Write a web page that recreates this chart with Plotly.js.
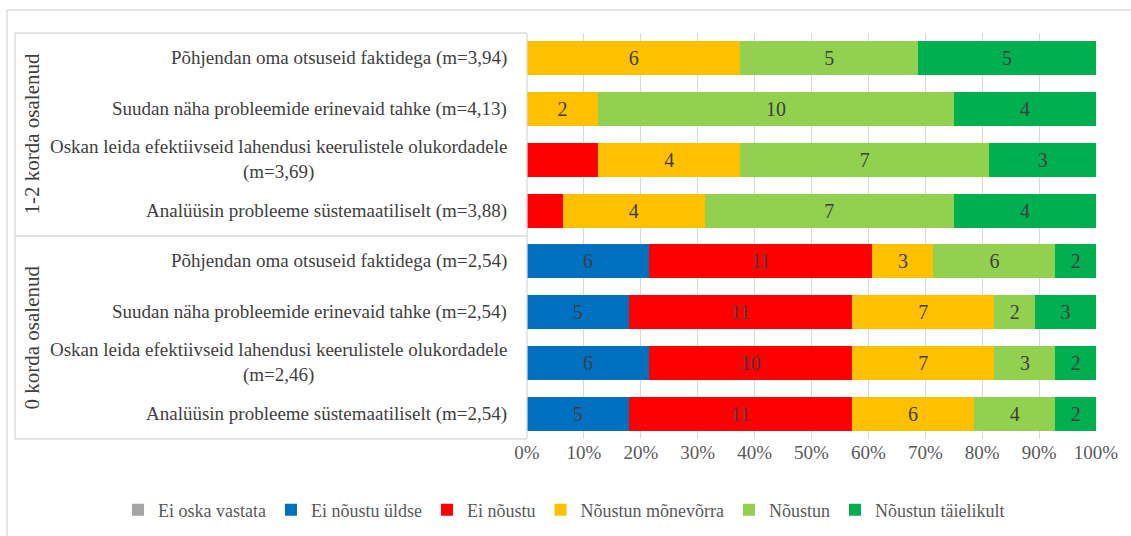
<!DOCTYPE html>
<html>
<head>
<meta charset="utf-8">
<script src="https://cdn.plot.ly/plotly-3.0.1.min.js"></script>
<style>html,body{margin:0;padding:0;background:#fff;}#chart{width:1131px;height:536px;}</style>
</head>
<body>
<div id="chart"></div>
<script>
// Categories listed top to bottom
const groups = ["1-2 korda osalenud", "1-2 korda osalenud", "1-2 korda osalenud", "1-2 korda osalenud",
                "0 korda osalenud", "0 korda osalenud", "0 korda osalenud", "0 korda osalenud"];
const statements = [
  "Põhjendan oma otsuseid faktidega (m=3,94)",
  "Suudan näha probleemide erinevaid tahke (m=4,13)",
  "Oskan leida efektiivseid lahendusi keerulistele olukordadele<br>(m=3,69)",
  "Analüüsin probleeme süstemaatiliselt (m=3,88)",
  "Põhjendan oma otsuseid faktidega (m=2,54)",
  "Suudan näha probleemide erinevaid tahke (m=2,54)",
  "Oskan leida efektiivseid lahendusi keerulistele olukordadele<br>(m=2,46)",
  "Analüüsin probleeme süstemaatiliselt (m=2,54)"
];
const seriesNames = ["Ei oska vastata", "Ei nõustu üldse", "Ei nõustu", "Nõustun mõnevõrra", "Nõustun", "Nõustun täielikult"];
const eiOskaVastata    = [0, 0, 0, 0, 0, 0, 0, 0];
const eiNoustuUldse    = [0, 0, 0, 0, 6, 5, 6, 5];
const eiNoustu         = [0, 0, 2, 1, 11, 11, 10, 11];
const noustunMonevorra = [6, 2, 4, 4, 3, 7, 7, 6];
const noustun          = [5, 10, 7, 7, 6, 2, 3, 4];
const noustunTaielikult= [5, 4, 3, 4, 2, 3, 2, 2];
const seriesValues = [eiOskaVastata, eiNoustuUldse, eiNoustu, noustunMonevorra, noustun, noustunTaielikult];
const seriesColors = ["#A5A5A5", "#0070C0", "#FF0000", "#FFC000", "#92D050", "#00B050"];
// segments whose value label is not shown in the original
const unlabeledSeries = "Ei nõustu";
const unlabeledGroup = "1-2 korda osalenud";
const xTickVals = [0,10,20,30,40,50,60,70,80,90,100];

const FONT = "Liberation Serif, Times New Roman, serif";
const traces = seriesNames.map((name, s) => ({
  type: "bar",
  orientation: "h",
  name: name,
  y: statements,
  x: seriesValues[s],
  marker: {color: seriesColors[s], line: {width: 0}},
  text: seriesValues[s].map((v, i) => (v > 0 && !(name === unlabeledSeries && groups[i] === unlabeledGroup)) ? String(v) : ""),
  textposition: "inside",
  insidetextanchor: "middle",
  constraintext: "none",
  textfont: {family: FONT, size: 20, color: "#404040"},
  hoverinfo: "name+x"
}));

// helper: pixel -> paper
const L = 527, R = 35, T = 33, B = 97, W = 1131, H = 536;
const pw = W - L - R, ph = H - T - B;
const px = p => (p - L) / pw;
const py = p => (H - B - p) / ph;

const annotations = statements.map(st => ({
  xref: "paper", yref: "y", x: 0, y: st, xanchor: "right", yanchor: "middle",
  xshift: -18, align: "center", showarrow: false, text: st,
  font: {family: FONT, size: 19, color: "#404040"}
}));
const groupNames = [...new Set(groups)];
groupNames.forEach((g, k) => {
  annotations.push({
    xref: "paper", yref: "paper", x: px(31), y: k === 0 ? 0.75 : 0.25,
    xanchor: "center", yanchor: "middle", textangle: -90, showarrow: false, text: g,
    font: {family: FONT, size: 21, color: "#404040"}
  });
});

const lineStyle = {color: "#D9D9D9", width: 1.3};
const shapes = [
  {type: "line", xref: "paper", yref: "paper", x0: px(15), x1: 0, y0: 1, y1: 1, line: lineStyle},
  {type: "line", xref: "paper", yref: "paper", x0: px(15), x1: 0, y0: 0.5, y1: 0.5, line: lineStyle},
  {type: "line", xref: "paper", yref: "paper", x0: px(15), x1: 0, y0: 0, y1: 0, line: lineStyle},
  {type: "line", xref: "paper", yref: "paper", x0: px(15), x1: px(15), y0: 0, y1: 1, line: lineStyle},
  {type: "line", xref: "paper", yref: "paper", x0: 0, x1: 0, y0: 0, y1: 1, line: lineStyle},
  {type: "line", xref: "paper", yref: "paper", x0: px(7), x1: px(1131), y0: py(10), y1: py(10), line: lineStyle},
  {type: "line", xref: "paper", yref: "paper", x0: px(7), x1: px(7), y0: py(10), y1: py(536), line: lineStyle}
];

const layout = {
  width: W, height: H,
  margin: {l: L, r: R, t: T, b: B, pad: 0, autoexpand: false},
  paper_bgcolor: "#ffffff", plot_bgcolor: "#ffffff",
  barmode: "stack", barnorm: "percent", bargap: 0.33,
  font: {family: FONT, color: "#595959"},
  xaxis: {
    range: [0, 100], tickvals: xTickVals, ticktext: xTickVals.map(v => v + "%"),
    showgrid: true, gridcolor: "#D9D9D9", gridwidth: 1, zeroline: false, showline: false,
    ticks: "", tickfont: {family: FONT, size: 19, color: "#595959"}, fixedrange: true, automargin: false
  },
  yaxis: {
    type: "category", autorange: "reversed", showticklabels: false, showgrid: false,
    zeroline: false, showline: false, ticks: "", fixedrange: true, automargin: false
  },
  legend: {
    orientation: "h", xref: "paper", x: px(118), xanchor: "left",
    y: py(510), yanchor: "middle", traceorder: "normal",
    font: {family: FONT, size: 18, color: "#595959"}, itemwidth: 30
  },
  annotations: annotations,
  shapes: shapes,
  showlegend: true
};

Plotly.newPlot("chart", traces, layout, {displayModeBar: false, staticPlot: true});
</script>
</body>
</html>
